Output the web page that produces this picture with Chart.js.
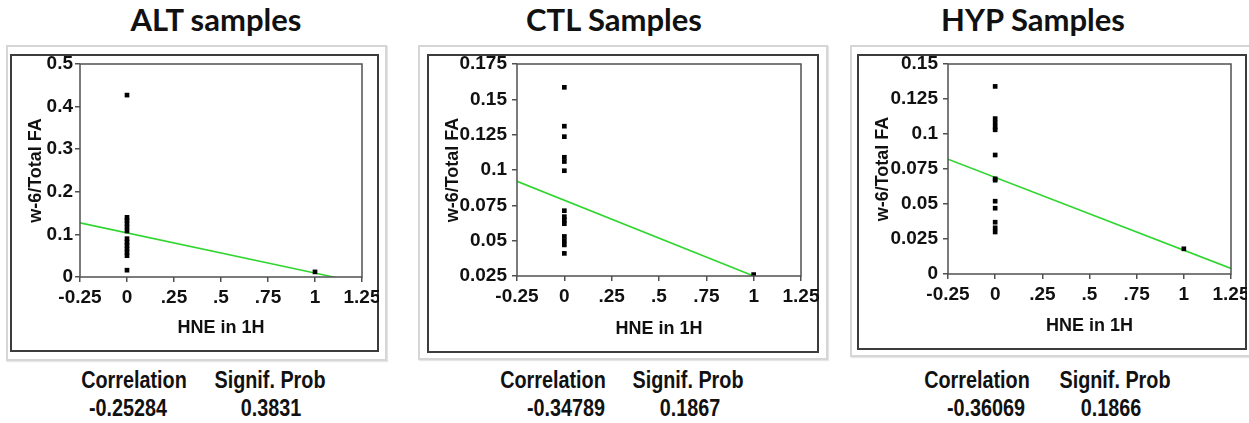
<!DOCTYPE html>
<html>
<head>
<meta charset="utf-8">
<script src="https://cdn.jsdelivr.net/npm/chart.js@4.4.1/dist/chart.umd.min.js"></script>
<style>
  html, body { margin: 0; padding: 0; background: #fff; }
  body { width: 1249px; height: 423px; position: relative; overflow: hidden; }
  .title { position: absolute; top: 4px; font-family: Lato, 'Open Sans', sans-serif; font-weight: 700;
           font-size: 31px; line-height: 30px; color: #111; transform: translateX(-50%); white-space: nowrap; }
  .frame { position: absolute; box-sizing: border-box; border: 2px solid #d6d6d6; box-shadow: 1px 1px 1px #e6e6e6; }
  .box { position: absolute; box-sizing: border-box; border: 2px solid #3c3c3c; }
  canvas { position: absolute; }
  .stat { position: absolute; font-family: 'Liberation Sans', Arial, sans-serif; font-weight: 700;
          color: #111; transform: translateX(-50%) scaleX(0.86); white-space: nowrap; }
  .head { font-size: 23px; line-height: 23px; top: 369px; }
  .val  { font-size: 23px; line-height: 23px; top: 397px; }
</style>
</head>
<body>
<script>
// ---- shared axis ticks ----
const xTickValues = [-0.25, 0, 0.25, 0.5, 0.75, 1, 1.25];
const xTickLabels = ['-0.25', '0', '.25', '.5', '.75', '1', '1.25'];
const statHeaders = ['Correlation', 'Signif. Prob'];

// ---- ALT samples ----
const altHne   = [0, 0, 0, 0, 0, 0, 0, 0, 0, 0, 0, 0, 0, 1];
const altRatio = [0.427, 0.140, 0.133, 0.125, 0.117, 0.108, 0.090, 0.082, 0.074, 0.066, 0.058, 0.050, 0.016, 0.012];
const altFitHne   = [-0.25, 1.11];
const altFitRatio = [0.127, -0.001];
const altYTicks  = [0, 0.1, 0.2, 0.3, 0.4, 0.5];
const altYLabels = ['0', '0.1', '0.2', '0.3', '0.4', '0.5'];
const altStats = ['-0.25284', '0.3831'];

// ---- CTL samples ----
const ctlHne   = [0, 0, 0, 0, 0, 0, 0, 0, 0, 0, 0, 0, 0, 0, 1];
const ctlRatio = [0.1585, 0.131, 0.1236, 0.109, 0.106, 0.0995, 0.0712, 0.067, 0.0645, 0.062, 0.053, 0.050, 0.047, 0.041, 0.026];
const ctlFitHne   = [-0.25, 1.0];
const ctlFitRatio = [0.092, 0.025];
const ctlYTicks  = [0.025, 0.05, 0.075, 0.1, 0.125, 0.15, 0.175];
const ctlYLabels = ['0.025', '0.05', '0.075', '0.1', '0.125', '0.15', '0.175'];
const ctlStats = ['-0.34789', '0.1867'];

// ---- HYP samples ----
const hypHne   = [0, 0, 0, 0, 0, 0, 0, 0, 0, 0, 0, 0, 0, 1];
const hypRatio = [0.134, 0.111, 0.108, 0.105, 0.103, 0.085, 0.068, 0.067, 0.052, 0.047, 0.037, 0.033, 0.030, 0.018];
const hypFitHne   = [-0.25, 1.25];
const hypFitRatio = [0.082, 0.004];
const hypYTicks  = [0, 0.025, 0.05, 0.075, 0.1, 0.125, 0.15];
const hypYLabels = ['0', '0.025', '0.05', '0.075', '0.1', '0.125', '0.15'];
const hypStats = ['-0.36069', '0.1866'];

// ---- panel geometry (page pixels) ----
const panels = [
  { title: 'ALT samples', titleX: 216, frame: [6, 45, 381, 316], box: [10, 54, 369, 298],
    yWidth: 70, padTop: 10, padRight: 17, xHeight: 75, yPad: 2,
    hne: altHne, ratio: altRatio, fitHne: altFitHne, fitRatio: altFitRatio,
    yTicks: altYTicks, yLabels: altYLabels, stats: altStats,
    statX: [134, 270], valX: [128, 271] },
  { title: 'CTL Samples', titleX: 614, frame: [418, 45, 410, 315], box: [427, 54, 392, 299],
    yWidth: 90, padTop: 10, padRight: 18, xHeight: 77, yPad: 5,
    hne: ctlHne, ratio: ctlRatio, fitHne: ctlFitHne, fitRatio: ctlFitRatio,
    yTicks: ctlYTicks, yLabels: ctlYLabels, stats: ctlStats,
    statX: [553, 688], valX: [566, 690] },
  { title: 'HYP Samples', titleX: 1033, frame: [850, 45, 402, 312], box: [857, 54, 390, 296],
    yWidth: 91, padTop: 10, padRight: 16, xHeight: 76, yPad: 5,
    hne: hypHne, ratio: hypRatio, fitHne: hypFitHne, fitRatio: hypFitRatio,
    yTicks: hypYTicks, yLabels: hypYLabels, stats: hypStats,
    statX: [977, 1115], valX: [986, 1111] }
];

const axisColor = '#505050';
const tickFont = { family: "'Liberation Sans', Arial, sans-serif", size: 19, weight: 'bold' };
const titleFont = { family: "'Liberation Sans', Arial, sans-serif", size: 18, weight: 'bold' };

// Closes the plot rectangle so the axes form a full box.
const plotFrame = {
  id: 'plotFrame',
  afterDraw(chart) {
    const { ctx, chartArea: a } = chart;
    ctx.save();
    ctx.strokeStyle = axisColor;
    ctx.lineWidth = 1.5;
    ctx.strokeRect(a.left, a.top, a.right - a.left, a.bottom - a.top);
    ctx.restore();
  }
};

function el(cls, text, style) {
  const d = document.createElement('div');
  d.className = cls;
  if (text) d.textContent = text;
  Object.assign(d.style, style);
  document.body.appendChild(d);
  return d;
}

panels.forEach(p => {
  el('frame', '', { left: p.frame[0] + 'px', top: p.frame[1] + 'px', width: p.frame[2] + 'px', height: p.frame[3] + 'px' });
  el('box', '', { left: p.box[0] + 'px', top: p.box[1] + 'px', width: p.box[2] + 'px', height: p.box[3] + 'px' });
  el('title', p.title, { left: p.titleX + 'px' });

  statHeaders.forEach((h, i) => el('stat head', h, { left: p.statX[i] + 'px' }));
  p.stats.forEach((v, i) => el('stat val', v, { left: p.valX[i] + 'px' }));

  const cv = document.createElement('canvas');
  cv.width = p.box[2];
  cv.height = p.box[3];
  cv.style.left = p.box[0] + 'px';
  cv.style.top = p.box[1] + 'px';
  document.body.appendChild(cv);

  new Chart(cv, {
    type: 'scatter',
    data: {
      datasets: [
        {
          type: 'line',
          data: p.fitHne.map((x, i) => ({ x, y: p.fitRatio[i] })),
          borderColor: '#2fd62f',
          borderWidth: 1.6,
          pointRadius: 0,
          fill: false,
          order: 2
        },
        {
          data: p.hne.map((x, i) => ({ x, y: p.ratio[i] })),
          pointStyle: 'rect',
          pointRadius: 3.3,
          backgroundColor: '#000',
          borderColor: '#000',
          borderWidth: 0,
          order: 1
        }
      ]
    },
    options: {
      responsive: false,
      animation: false,
      events: [],
      layout: { padding: { left: 0, top: p.padTop, right: p.padRight, bottom: 0 } },
      plugins: { legend: { display: false }, tooltip: { enabled: false } },
      scales: {
        x: {
          type: 'linear',
          min: xTickValues[0],
          max: xTickValues[xTickValues.length - 1],
          afterBuildTicks: s => { s.ticks = xTickValues.map(v => ({ value: v })); },
          afterFit: s => { s.height = p.xHeight; s.paddingLeft = 0; s.paddingRight = 0; },
          ticks: {
            autoSkip: false, maxRotation: 0, padding: 4, color: '#111', font: tickFont,
            callback: (v, i) => xTickLabels[i]
          },
          grid: { drawOnChartArea: false, drawTicks: true, tickLength: 5, color: axisColor, lineWidth: 1.5 },
          border: { display: false },
          title: { display: true, text: 'HNE in 1H', color: '#111', font: titleFont, padding: { top: 0, bottom: 13 } }
        },
        y: {
          type: 'linear',
          min: p.yTicks[0],
          max: p.yTicks[p.yTicks.length - 1],
          afterBuildTicks: s => { s.ticks = p.yTicks.map(v => ({ value: v })); },
          afterFit: s => { s.width = p.yWidth; s.paddingTop = 0; s.paddingBottom = 0; },
          ticks: {
            autoSkip: false, padding: p.yPad, color: '#111', font: tickFont,
            callback: (v, i) => p.yLabels[i]
          },
          grid: { drawOnChartArea: false, drawTicks: true, tickLength: 5, color: axisColor, lineWidth: 1.5 },
          border: { display: false },
          title: { display: true, text: 'w-6/Total FA', color: '#111', font: titleFont, padding: { top: 15, bottom: 0 } }
        }
      }
    },
    plugins: [plotFrame]
  });
});
</script>
</body>
</html>
